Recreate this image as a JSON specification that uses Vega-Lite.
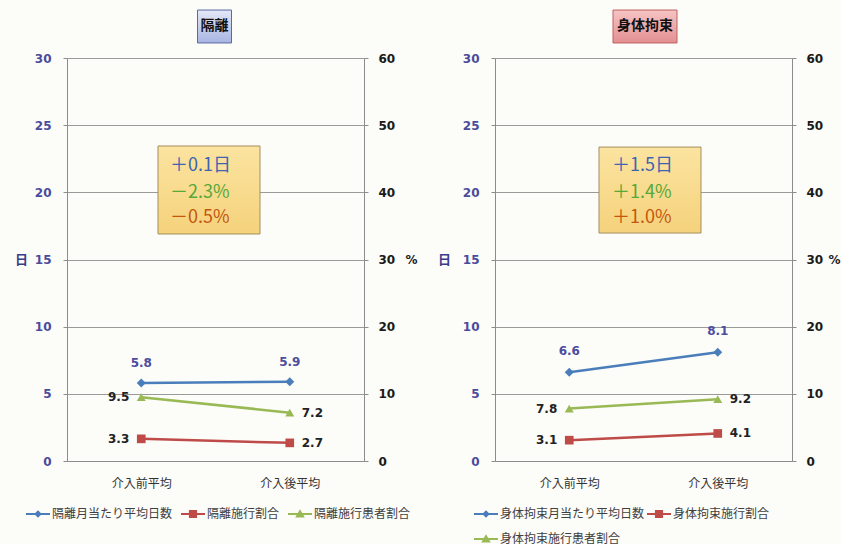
{
  "$schema": "https://vega.github.io/schema/vega-lite/v6.json",
  "background": "#fcfcf9",
  "autosize": {"type": "pad"},
  "padding": {"left": 14, "top": 9, "right": 0, "bottom": 0},
  "datasets": {
    "kakuri": [
      {"x": "介入前平均", "series": "隔離月当たり平均日数", "unit": "days", "value": 5.8},
      {"x": "介入後平均", "series": "隔離月当たり平均日数", "unit": "days", "value": 5.9},
      {"x": "介入前平均", "series": "隔離施行割合", "unit": "pct", "value": 3.3},
      {"x": "介入後平均", "series": "隔離施行割合", "unit": "pct", "value": 2.7},
      {"x": "介入前平均", "series": "隔離施行患者割合", "unit": "pct", "value": 9.5},
      {"x": "介入後平均", "series": "隔離施行患者割合", "unit": "pct", "value": 7.2},
      {"x": "介入前平均", "unit": "note", "kind": "title", "label": "隔離"},
      {"x": "介入前平均", "unit": "note", "kind": "days", "label": "＋0.1日"},
      {"x": "介入前平均", "unit": "note", "kind": "share", "label": "－2.3%"},
      {"x": "介入前平均", "unit": "note", "kind": "rate", "label": "－0.5%"}
    ],
    "kosoku": [
      {"x": "介入前平均", "series": "身体拘束月当たり平均日数", "unit": "days", "value": 6.6},
      {"x": "介入後平均", "series": "身体拘束月当たり平均日数", "unit": "days", "value": 8.1},
      {"x": "介入前平均", "series": "身体拘束施行割合", "unit": "pct", "value": 3.1},
      {"x": "介入後平均", "series": "身体拘束施行割合", "unit": "pct", "value": 4.1},
      {"x": "介入前平均", "series": "身体拘束施行患者割合", "unit": "pct", "value": 7.8},
      {"x": "介入後平均", "series": "身体拘束施行患者割合", "unit": "pct", "value": 9.2},
      {"x": "介入前平均", "unit": "note", "kind": "title", "label": "身体拘束"},
      {"x": "介入前平均", "unit": "note", "kind": "days", "label": "＋1.5日"},
      {"x": "介入前平均", "unit": "note", "kind": "share", "label": "＋1.4%"},
      {"x": "介入前平均", "unit": "note", "kind": "rate", "label": "＋1.0%"}
    ]
  },
  "spacing": 131,
  "bounds": "flush",
  "hconcat": [
    {
      "width": 297,
      "height": 403,
      "data": {"name": "kakuri"},
      "encoding": {
        "x": {
          "field": "x", "type": "ordinal",
          "scale": {"type": "point", "domain": ["介入前平均", "介入後平均"], "padding": 0.5},
          "axis": {"title": null, "ticks": false, "grid": false, "domainColor": "#8c8c8c", "labelPadding": 17, "labelFont": "Noto Sans CJK JP", "labelFontSize": 12, "labelColor": "#333333", "labelAngle": 0}
        }
      },
      "layer": [
        {
          "layer": [
            {
              "transform": [{"filter": "datum.unit === 'days'"}],
              "mark": {"type": "line", "strokeWidth": 2.5, "color": "#4a7ebb"},
              "encoding": {
                "y": {
                  "field": "value", "type": "quantitative",
                  "scale": {"domain": [0, 30], "nice": false},
                  "axis": {"orient": "left", "values": [0, 5, 10, 15, 20, 25, 30], "grid": true, "gridColor": "#9a9a9a", "gridWidth": 1, "domainColor": "#8c8c8c", "tickColor": "#8c8c8c", "tickSize": 4, "labelPadding": 12, "labelFont": "DejaVu Sans", "labelFontSize": 12, "labelFontWeight": "bold", "labelColor": "#4b4b9b", "title": "日", "titleAngle": 0, "titleX": -46, "titleY": 201.5, "titleAlign": "center", "titleBaseline": "middle", "titleFont": "Noto Sans CJK JP", "titleFontSize": 13, "titleFontWeight": "bold", "titleColor": "#3b3b8c"}
                }
              }
            },
            {
              "transform": [{"filter": "datum.unit === 'days'"}],
              "mark": {"type": "point", "filled": true, "opacity": 1, "size": 80, "shape": "diamond", "color": "#4a7ebb"},
              "encoding": {"y": {"field": "value", "type": "quantitative"}}
            },
            {
              "transform": [{"filter": "datum.unit === 'days'"}],
              "mark": {"type": "text", "dy": -20, "font": "DejaVu Sans", "fontWeight": "bold", "fontSize": 12, "color": "#4d4d9e"},
              "encoding": {"y": {"field": "value", "type": "quantitative"}, "text": {"field": "value", "type": "quantitative", "format": ".1f"}}
            },
            {
              "transform": [{"filter": "datum.unit !== 'note'"}],
              "mark": {"type": "point", "filled": true, "opacity": 0},
              "encoding": {
                "y": {"field": "value", "type": "quantitative"},
                "color": {
                  "field": "series", "type": "nominal",
                  "scale": {"domain": ["隔離月当たり平均日数", "隔離施行割合", "隔離施行患者割合"], "range": ["#4a7ebb", "#be4b48", "#98b954"]},
                  "legend": {"title": null, "orient": "none", "legendX": -41, "legendY": 444, "direction": "horizontal", "columns": 3, "labelFont": "Noto Sans CJK JP", "labelFontSize": 12, "labelColor": "#404040", "labelOffset": 2, "labelLimit": 300, "columnPadding": 8, "rowPadding": 0, "symbolSize": 576, "symbolOpacity": 1, "symbolStrokeWidth": 0}
                },
                "shape": {
                  "field": "series", "type": "nominal",
                  "scale": {"domain": ["隔離月当たり平均日数", "隔離施行割合", "隔離施行患者割合"], "range": ["M-1,-0.085H1V0.085H-1ZM0,-0.32L0.32,0L0,0.32L-0.32,0Z", "M-1,-0.085H1V0.085H-1ZM-0.34,-0.34H0.34V0.34H-0.34Z", "M-1,-0.085H1V0.085H-1ZM0,-0.4L0.4,0.3L-0.4,0.3Z"]},
                  "legend": {"title": null, "orient": "none", "legendX": -41, "legendY": 444, "direction": "horizontal", "columns": 3, "labelFont": "Noto Sans CJK JP", "labelFontSize": 12, "labelColor": "#404040", "labelOffset": 2, "labelLimit": 300, "columnPadding": 8, "rowPadding": 0, "symbolSize": 576, "symbolOpacity": 1, "symbolStrokeWidth": 0}
                }
              }
            },
            {
              "transform": [{"filter": "datum.unit === 'note' && datum.kind === 'days'"}],
              "mark": {"type": "rect", "width": 102, "xOffset": 67.75, "stroke": "#a48f5e", "strokeWidth": 1,
                "fill": {"gradient": "linear", "x1": 0, "y1": 0, "x2": 0, "y2": 1, "stops": [{"offset": 0, "color": "#fbe4a0"}, {"offset": 1, "color": "#f5d27c"}]}},
              "encoding": {"y": {"datum": 23.45, "type": "quantitative"}, "y2": {"datum": 16.9}}
            },
            {
              "transform": [{"filter": "datum.unit === 'note' && datum.kind === 'days'"}],
              "mark": {"type": "text", "align": "left", "baseline": "middle", "dx": 28.75, "font": "Noto Sans CJK JP", "fontSize": 18, "color": "#3e64b0"},
              "encoding": {"y": {"datum": 21.96, "type": "quantitative"}, "text": {"field": "label", "type": "nominal"}}
            },
            {
              "transform": [{"filter": "datum.unit === 'note' && datum.kind === 'share'"}],
              "mark": {"type": "text", "align": "left", "baseline": "middle", "dx": 28.75, "font": "Noto Sans CJK JP", "fontSize": 18, "color": "#55a83a"},
              "encoding": {"y": {"datum": 19.95, "type": "quantitative"}, "text": {"field": "label", "type": "nominal"}}
            },
            {
              "transform": [{"filter": "datum.unit === 'note' && datum.kind === 'rate'"}],
              "mark": {"type": "text", "align": "left", "baseline": "middle", "dx": 28.75, "font": "Noto Sans CJK JP", "fontSize": 18, "color": "#c5560f"},
              "encoding": {"y": {"datum": 18.09, "type": "quantitative"}, "text": {"field": "label", "type": "nominal"}}
            },
            {
              "transform": [{"filter": "datum.unit === 'note' && datum.kind === 'title'"}],
              "mark": {"type": "rect", "width": 34, "xOffset": 73.25, "stroke": "#5a6aa0", "strokeWidth": 1,
                "fill": {"gradient": "linear", "x1": 0, "y1": 0, "x2": 0, "y2": 1, "stops": [{"offset": 0, "color": "#e4e8f8"}, {"offset": 1, "color": "#a9b5e2"}]}},
              "encoding": {"y": {"datum": 33.57, "type": "quantitative"}, "y2": {"datum": 31.12}}
            },
            {
              "transform": [{"filter": "datum.unit === 'note' && datum.kind === 'title'"}],
              "mark": {"type": "text", "align": "center", "baseline": "middle", "dx": 73.25, "font": "Noto Sans CJK JP", "fontSize": 14, "fontWeight": "bold", "color": "#111111"},
              "encoding": {"y": {"datum": 32.38, "type": "quantitative"}, "text": {"field": "label", "type": "nominal"}}
            }
          ]
        },
        {
          "transform": [{"filter": "datum.unit === 'pct'"}],
          "encoding": {
            "y": {
              "field": "value", "type": "quantitative",
              "scale": {"domain": [0, 60], "nice": false},
              "axis": {"orient": "right", "values": [0, 10, 20, 30, 40, 50, 60], "grid": false, "domainColor": "#8c8c8c", "tickColor": "#8c8c8c", "tickSize": 4, "labelPadding": 10, "labelFont": "DejaVu Sans", "labelFontSize": 12, "labelFontWeight": "bold", "labelColor": "#1a1a1a", "title": "%", "titleAngle": 0, "titleX": 47, "titleY": 201.5, "titleAlign": "center", "titleBaseline": "middle", "titleFont": "DejaVu Sans", "titleFontSize": 12, "titleFontWeight": "bold", "titleColor": "#1a1a1a"}
            }
          },
          "layer": [
            {
              "transform": [{"filter": "datum.series === '隔離施行割合'"}],
              "mark": {"type": "line", "strokeWidth": 2.5, "color": "#be4b48"}
            },
            {
              "transform": [{"filter": "datum.series === '隔離施行割合'"}],
              "mark": {"type": "point", "filled": true, "opacity": 1, "size": 75, "shape": "square", "color": "#be4b48"}
            },
            {
              "transform": [{"filter": "datum.series === '隔離施行患者割合'"}],
              "mark": {"type": "line", "strokeWidth": 2.5, "color": "#98b954"}
            },
            {
              "transform": [{"filter": "datum.series === '隔離施行患者割合'"}],
              "mark": {"type": "point", "filled": true, "opacity": 1, "size": 80, "shape": "triangle-up", "color": "#98b954"}
            },
            {
              "transform": [{"filter": "datum.x === '介入前平均'"}],
              "mark": {"type": "text", "align": "right", "baseline": "middle", "dx": -12, "font": "DejaVu Sans", "fontWeight": "bold", "fontSize": 12, "color": "#222222"},
              "encoding": {"text": {"field": "value", "type": "quantitative", "format": ".1f"}}
            },
            {
              "transform": [{"filter": "datum.x === '介入後平均'"}],
              "mark": {"type": "text", "align": "left", "baseline": "middle", "dx": 12, "font": "DejaVu Sans", "fontWeight": "bold", "fontSize": 12, "color": "#222222"},
              "encoding": {"text": {"field": "value", "type": "quantitative", "format": ".1f"}}
            }
          ]
        }
      ],
      "resolve": {"scale": {"y": "independent"}}
    },
    {
      "width": 297,
      "height": 403,
      "data": {"name": "kosoku"},
      "encoding": {
        "x": {
          "field": "x", "type": "ordinal",
          "scale": {"type": "point", "domain": ["介入前平均", "介入後平均"], "padding": 0.5},
          "axis": {"title": null, "ticks": false, "grid": false, "domainColor": "#8c8c8c", "labelPadding": 17, "labelFont": "Noto Sans CJK JP", "labelFontSize": 12, "labelColor": "#333333", "labelAngle": 0}
        }
      },
      "layer": [
        {
          "layer": [
            {
              "transform": [{"filter": "datum.unit === 'days'"}],
              "mark": {"type": "line", "strokeWidth": 2.5, "color": "#4a7ebb"},
              "encoding": {
                "y": {
                  "field": "value", "type": "quantitative",
                  "scale": {"domain": [0, 30], "nice": false},
                  "axis": {"orient": "left", "values": [0, 5, 10, 15, 20, 25, 30], "grid": true, "gridColor": "#9a9a9a", "gridWidth": 1, "domainColor": "#8c8c8c", "tickColor": "#8c8c8c", "tickSize": 4, "labelPadding": 12, "labelFont": "DejaVu Sans", "labelFontSize": 12, "labelFontWeight": "bold", "labelColor": "#4b4b9b", "title": "日", "titleAngle": 0, "titleX": -51, "titleY": 201.5, "titleAlign": "center", "titleBaseline": "middle", "titleFont": "Noto Sans CJK JP", "titleFontSize": 13, "titleFontWeight": "bold", "titleColor": "#3b3b8c"}
                }
              }
            },
            {
              "transform": [{"filter": "datum.unit === 'days'"}],
              "mark": {"type": "point", "filled": true, "opacity": 1, "size": 80, "shape": "diamond", "color": "#4a7ebb"},
              "encoding": {"y": {"field": "value", "type": "quantitative"}}
            },
            {
              "transform": [{"filter": "datum.unit === 'days'"}],
              "mark": {"type": "text", "dy": -21, "font": "DejaVu Sans", "fontWeight": "bold", "fontSize": 12, "color": "#4d4d9e"},
              "encoding": {"y": {"field": "value", "type": "quantitative"}, "text": {"field": "value", "type": "quantitative", "format": ".1f"}}
            },
            {
              "transform": [{"filter": "datum.unit !== 'note'"}],
              "mark": {"type": "point", "filled": true, "opacity": 0},
              "encoding": {
                "y": {"field": "value", "type": "quantitative"},
                "color": {
                  "field": "series", "type": "nominal",
                  "scale": {"domain": ["身体拘束月当たり平均日数", "身体拘束施行割合", "身体拘束施行患者割合"], "range": ["#4a7ebb", "#be4b48", "#98b954"]},
                  "legend": {"title": null, "orient": "none", "legendX": -21, "legendY": 444, "direction": "horizontal", "columns": 2, "labelFont": "Noto Sans CJK JP", "labelFontSize": 12, "labelColor": "#404040", "labelOffset": 2, "labelLimit": 300, "columnPadding": 2, "rowPadding": 7, "symbolSize": 576, "symbolOpacity": 1, "symbolStrokeWidth": 0}
                },
                "shape": {
                  "field": "series", "type": "nominal",
                  "scale": {"domain": ["身体拘束月当たり平均日数", "身体拘束施行割合", "身体拘束施行患者割合"], "range": ["M-1,-0.085H1V0.085H-1ZM0,-0.32L0.32,0L0,0.32L-0.32,0Z", "M-1,-0.085H1V0.085H-1ZM-0.34,-0.34H0.34V0.34H-0.34Z", "M-1,-0.085H1V0.085H-1ZM0,-0.4L0.4,0.3L-0.4,0.3Z"]},
                  "legend": {"title": null, "orient": "none", "legendX": -21, "legendY": 444, "direction": "horizontal", "columns": 2, "labelFont": "Noto Sans CJK JP", "labelFontSize": 12, "labelColor": "#404040", "labelOffset": 2, "labelLimit": 300, "columnPadding": 2, "rowPadding": 7, "symbolSize": 576, "symbolOpacity": 1, "symbolStrokeWidth": 0}
                }
              }
            },
            {
              "transform": [{"filter": "datum.unit === 'note' && datum.kind === 'days'"}],
              "mark": {"type": "rect", "width": 102, "xOffset": 80.75, "stroke": "#a48f5e", "strokeWidth": 1,
                "fill": {"gradient": "linear", "x1": 0, "y1": 0, "x2": 0, "y2": 1, "stops": [{"offset": 0, "color": "#fbe4a0"}, {"offset": 1, "color": "#f5d27c"}]}},
              "encoding": {"y": {"datum": 23.37, "type": "quantitative"}, "y2": {"datum": 16.97}}
            },
            {
              "transform": [{"filter": "datum.unit === 'note' && datum.kind === 'days'"}],
              "mark": {"type": "text", "align": "left", "baseline": "middle", "dx": 42.75, "font": "Noto Sans CJK JP", "fontSize": 18, "color": "#3e64b0"},
              "encoding": {"y": {"datum": 21.96, "type": "quantitative"}, "text": {"field": "label", "type": "nominal"}}
            },
            {
              "transform": [{"filter": "datum.unit === 'note' && datum.kind === 'share'"}],
              "mark": {"type": "text", "align": "left", "baseline": "middle", "dx": 42.75, "font": "Noto Sans CJK JP", "fontSize": 18, "color": "#55a83a"},
              "encoding": {"y": {"datum": 19.95, "type": "quantitative"}, "text": {"field": "label", "type": "nominal"}}
            },
            {
              "transform": [{"filter": "datum.unit === 'note' && datum.kind === 'rate'"}],
              "mark": {"type": "text", "align": "left", "baseline": "middle", "dx": 42.75, "font": "Noto Sans CJK JP", "fontSize": 18, "color": "#c5560f"},
              "encoding": {"y": {"datum": 18.09, "type": "quantitative"}, "text": {"field": "label", "type": "nominal"}}
            },
            {
              "transform": [{"filter": "datum.unit === 'note' && datum.kind === 'title'"}],
              "mark": {"type": "rect", "width": 64, "xOffset": 75.75, "stroke": "#c0605f", "strokeWidth": 1,
                "fill": {"gradient": "linear", "x1": 0, "y1": 0, "x2": 0, "y2": 1, "stops": [{"offset": 0, "color": "#f6c4c4"}, {"offset": 1, "color": "#e38f92"}]}},
              "encoding": {"y": {"datum": 33.57, "type": "quantitative"}, "y2": {"datum": 31.12}}
            },
            {
              "transform": [{"filter": "datum.unit === 'note' && datum.kind === 'title'"}],
              "mark": {"type": "text", "align": "center", "baseline": "middle", "dx": 75.75, "font": "Noto Sans CJK JP", "fontSize": 14, "fontWeight": "bold", "color": "#111111"},
              "encoding": {"y": {"datum": 32.38, "type": "quantitative"}, "text": {"field": "label", "type": "nominal"}}
            }
          ]
        },
        {
          "transform": [{"filter": "datum.unit === 'pct'"}],
          "encoding": {
            "y": {
              "field": "value", "type": "quantitative",
              "scale": {"domain": [0, 60], "nice": false},
              "axis": {"orient": "right", "values": [0, 10, 20, 30, 40, 50, 60], "grid": false, "domainColor": "#8c8c8c", "tickColor": "#8c8c8c", "tickSize": 4, "labelPadding": 10, "labelFont": "DejaVu Sans", "labelFontSize": 12, "labelFontWeight": "bold", "labelColor": "#1a1a1a", "title": "%", "titleAngle": 0, "titleX": 42, "titleY": 201.5, "titleAlign": "center", "titleBaseline": "middle", "titleFont": "DejaVu Sans", "titleFontSize": 12, "titleFontWeight": "bold", "titleColor": "#1a1a1a"}
            }
          },
          "layer": [
            {
              "transform": [{"filter": "datum.series === '身体拘束施行割合'"}],
              "mark": {"type": "line", "strokeWidth": 2.5, "color": "#be4b48"}
            },
            {
              "transform": [{"filter": "datum.series === '身体拘束施行割合'"}],
              "mark": {"type": "point", "filled": true, "opacity": 1, "size": 75, "shape": "square", "color": "#be4b48"}
            },
            {
              "transform": [{"filter": "datum.series === '身体拘束施行患者割合'"}],
              "mark": {"type": "line", "strokeWidth": 2.5, "color": "#98b954"}
            },
            {
              "transform": [{"filter": "datum.series === '身体拘束施行患者割合'"}],
              "mark": {"type": "point", "filled": true, "opacity": 1, "size": 80, "shape": "triangle-up", "color": "#98b954"}
            },
            {
              "transform": [{"filter": "datum.x === '介入前平均'"}],
              "mark": {"type": "text", "align": "right", "baseline": "middle", "dx": -12, "font": "DejaVu Sans", "fontWeight": "bold", "fontSize": 12, "color": "#222222"},
              "encoding": {"text": {"field": "value", "type": "quantitative", "format": ".1f"}}
            },
            {
              "transform": [{"filter": "datum.x === '介入後平均'"}],
              "mark": {"type": "text", "align": "left", "baseline": "middle", "dx": 12, "font": "DejaVu Sans", "fontWeight": "bold", "fontSize": 12, "color": "#222222"},
              "encoding": {"text": {"field": "value", "type": "quantitative", "format": ".1f"}}
            }
          ]
        }
      ],
      "resolve": {"scale": {"y": "independent"}}
    }
  ],
  "resolve": {
    "scale": {"x": "independent", "y": "independent", "color": "independent", "shape": "independent"},
    "legend": {"color": "independent", "shape": "independent"}
  },
  "config": {"view": {"stroke": null}, "font": "Noto Sans CJK JP", "mark": {"invalid": "show"}}
}
